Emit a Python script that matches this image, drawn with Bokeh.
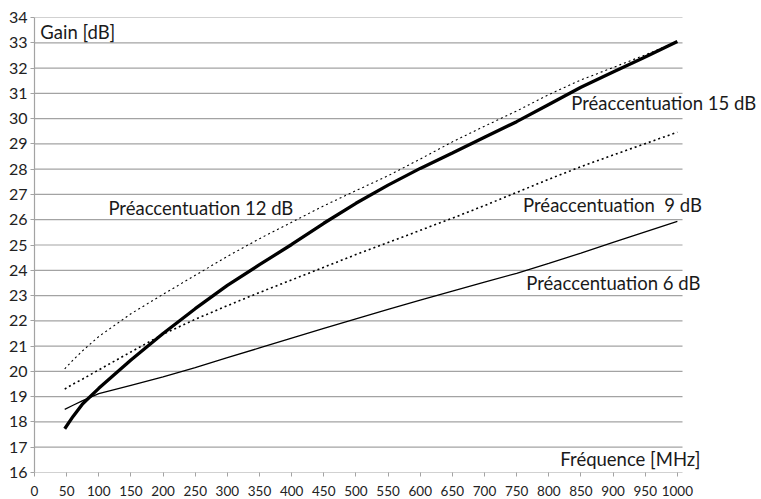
from bokeh.plotting import figure
from bokeh.models import Range1d, Label, FixedTicker, ColumnDataSource
from bokeh.embed import file_html
from bokeh.resources import INLINE

freq = [47, 60, 75, 100, 150, 200, 250, 300, 350, 400, 450, 500, 550, 600, 650,
        700, 750, 800, 850, 900, 950, 1000]
gain_6db = [18.5, 18.66, 18.84, 19.12, 19.45, 19.78, 20.15, 20.54, 20.93, 21.32, 21.7, 22.08,
            22.45, 22.82, 23.18, 23.53, 23.88, 24.27, 24.68, 25.1, 25.52, 25.93]
gain_9db = [19.3, 19.5, 19.7, 20.06, 20.77, 21.47, 22.06, 22.6, 23.12, 23.62, 24.12, 24.62,
            25.1, 25.58, 26.06, 26.56, 27.08, 27.6, 28.1, 28.56, 29.01, 29.46]
gain_12db = [20.1, 20.45, 20.82, 21.38, 22.28, 23.05, 23.8, 24.55, 25.25, 25.9, 26.55, 27.15,
             27.74, 28.4, 29.08, 29.7, 30.3, 30.95, 31.53, 32.02, 32.52, 33.05]
gain_15db = [17.73, 18.22, 18.72, 19.33, 20.45, 21.5, 22.48, 23.4, 24.22, 25.02, 25.86, 26.65,
             27.37, 28.03, 28.64, 29.26, 29.88, 30.56, 31.24, 31.84, 32.44, 33.05]

x_ticks = list(range(0, 1001, 50))
y_ticks = list(range(16, 35))
x_end = 1008

FONT = "Lato"
GRID = "#a3a3a3"

p = figure(width=760, height=498, output_backend="svg", toolbar_location=None,
           x_range=Range1d(0, 1126.2), y_range=Range1d(16, 34),
           min_border_left=34, min_border_right=2, min_border_top=17,
           min_border_bottom=26)
p.outline_line_color = None
p.background_fill_color = "white"
p.border_fill_color = "white"

# horizontal grid lines, ending at the end of the frequency axis
p.segment(x0=[0] * len(y_ticks), x1=[x_end] * len(y_ticks), y0=y_ticks, y1=y_ticks,
          line_color=GRID, line_width=1.2)

src = ColumnDataSource(dict(f=freq, g6=gain_6db, g9=gain_9db, g12=gain_12db, g15=gain_15db))

p.line("f", "g6", source=src, line_color="black", line_width=1.3)
p.line("f", "g9", source=src, line_color="black", line_width=1.6, line_dash="2 3")
p.line("f", "g12", source=src, line_color="black", line_width=1.1, line_dash="2 3")
p.line("f", "g15", source=src, line_color="black", line_width=3.3)

for ax, ticks in ((p.xaxis[0], x_ticks), (p.yaxis[0], y_ticks)):
    ax.ticker = FixedTicker(ticks=ticks)
    ax.axis_line_color = GRID
    ax.axis_line_width = 1.2
    ax.major_tick_line_color = GRID
    ax.major_tick_out = 4
    ax.major_tick_in = 0
    ax.minor_tick_line_color = None
    ax.major_label_text_font = FONT
    ax.major_label_text_color = "#222222"

p.xaxis[0].axis_line_color = None
p.xaxis[0].major_label_text_font_size = "13.5px"
p.xaxis[0].major_label_standoff = 9
p.yaxis[0].major_label_text_font_size = "16px"
p.yaxis[0].major_label_standoff = 3

p.xgrid.grid_line_color = None
p.ygrid.grid_line_color = None

labels = [
    ("Gain [dB]", 9, 33.43),
    ("Préaccentuation 12 dB", 115, 26.48),
    ("Préaccentuation 15 dB", 835, 30.62),
    ("Préaccentuation\u00a0 9 dB", 760, 26.58),
    ("Préaccentuation 6 dB", 765, 23.5),
    ("Fréquence [MHz]", 818, 16.53),
]
for txt, lx, ly in labels:
    p.add_layout(Label(x=lx, y=ly, text=txt, text_font=FONT, text_font_size="18.5px",
                       text_color="#1a1a1a", text_baseline="middle", text_align="left"))

open("out.html", "w").write(file_html(p, INLINE))
